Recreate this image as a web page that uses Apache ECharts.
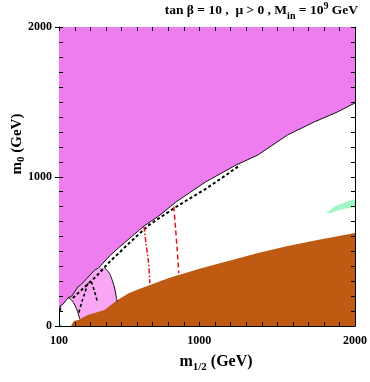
<!DOCTYPE html>
<html>
<head>
<meta charset="utf-8">
<script src="https://cdn.jsdelivr.net/npm/echarts@6/dist/echarts.min.js"></script>
<style>
html,body{margin:0;padding:0;background:#fff;}
#chart{width:370px;height:382px;}
</style>
</head>
<body>
<div id="chart"></div>
<script>
// ---- data (m_1/2 [GeV], m_0 [GeV]) ----
const xTickLabels = [100, 1000, 2000];
const yTickLabels = [0, 1000, 2000];

// upper boundary (charged stau LSP region above)
const staulspBoundary = [[111,96],[111,137],[125,145],[157,187],[183,201],[221,261],[246,281],[329,375],[354,388],[424,468],[488,528],[646,669],[741,736],[850,829],[1040,963],[1237,1077],[1377,1144],[1567,1278],[1739,1365],[1886,1431],[2000,1492]];
// brown excluded region (top edge)
const brownEdge = [[176,0],[195,33],[223,40],[284,74],[392,107],[475,174],[551,221],[615,247],[805,321],[996,381],[1187,435],[1377,488],[1568,535],[1759,575],[2000,622]];
// light pink region
const pinkRegion = [[159,189],[181,174],[202,140],[219,96],[233,40],[475,40],[475,161],[469,185],[460,241],[445,296],[424,352],[392,390],[354,388],[329,375],[246,281],[221,261],[183,201]];
const pinkRightEdge = [[392,390],[424,352],[445,296],[460,241],[469,185],[475,161]];
const pinkLeftEdge = [[159,189],[181,174],[202,140],[219,96],[233,48]];
// green relic-density strip
const greenStrip = [[1816,756],[1873,803],[1930,825],[1962,838],[2000,847],[2000,794],[1949,787],[1898,776],[1841,754]];
const cyanSpot = [[100,0],[122,0],[112,14],[104,12]];
// dashed / dash-dot contours
const blackDashedMain = [[189,187],[265,261],[335,328],[424,428],[551,555],[678,676],[850,796],[1040,916],[1155,997],[1263,1077]];
const blackDashedB = [[286,286],[265,219],[244,152],[227,87]];
const blackDashedC = [[308,296],[329,229],[346,163]];
const redDashDot = [[646,664],[657,564],[674,430],[683,286]];
const redDashed = [[837,798],[848,654],[858,520],[869,353]];

// ---- build ----
const magentaRegion = [[100,2000],[2000,2000]].concat(staulspBoundary.slice().reverse()).concat([[100,137]]);

function poly(points, color, z) {
  return {
    type: 'custom', coordinateSystem: 'cartesian2d', xAxisIndex: 0, yAxisIndex: 0,
    data: [[points[0][0], points[0][1]]], z: z, silent: true, clip: true,
    renderItem: function (params, api) {
      return { type: 'polygon', shape: { points: points.map(function (p) { return api.coord(p); }) },
               style: { fill: color } };
    }
  };
}
function line(points, color, width, type, z, smooth) {
  return {
    type: 'line', xAxisIndex: 0, yAxisIndex: 0, data: points, showSymbol: false, symbol: 'none',
    smooth: smooth || 0, silent: true, z: z, clip: true,
    lineStyle: { color: color, width: width, type: type }
  };
}
// tick marks drawn on top of the filled regions, positioned by the axis scales
function tickLayer(axisDim, values, atValue, dir, len) {
  const pts = values.map(function (v) { return axisDim === 'x' ? [v, atValue] : [atValue, v]; });
  return {
    type: 'custom', coordinateSystem: 'cartesian2d', xAxisIndex: 0, yAxisIndex: 0,
    data: pts, z: 50, silent: true, clip: false,
    renderItem: function (params, api) {
      const p = api.coord([api.value(0), api.value(1)]);
      const x = Math.round(p[0]), y = Math.round(p[1]);
      const sh = axisDim === 'x'
        ? { x: x, y: dir < 0 ? y - len : y, width: 1, height: len }
        : { x: dir < 0 ? x - len : x, y: y, width: len, height: 1 };
      return { type: 'rect', shape: sh, style: { fill: '#000' } };
    }
  };
}

const serif = '"Liberation Serif", "DejaVu Serif", serif';
const chart = echarts.init(document.getElementById('chart'), null, { renderer: 'canvas' });

const axisCommon = {
  type: 'value', splitLine: { show: false },
  axisLine: { show: true, onZero: false, lineStyle: { color: '#000', width: 1 } },
  axisTick: { show: false }
};
const plain = function (v) { return String(v); };
const xTicks = [100,200,300,400,500,600,700,800,900,1000,1100,1200,1300,1400,1500,1600,1700,1800,1900,2000];
const yTicks = [0,100,200,300,400,500,600,700,800,900,1000,1100,1200,1300,1400,1500,1600,1700,1800,1900,2000];

chart.setOption({
  animation: false,
  backgroundColor: '#fff',
  grid: { left: 59, right: 12, top: 27, bottom: 56, containLabel: false },
  xAxis: [
    Object.assign({}, axisCommon, { min: 100, max: 2000, interval: 100, position: 'bottom',
      axisLabel: { show: true, customValues: xTickLabels, margin: 9, formatter: plain,
        fontFamily: serif, fontWeight: 'bold', fontSize: 12, color: '#000' } }),
    Object.assign({}, axisCommon, { min: 100, max: 2000, interval: 100, position: 'top',
      axisLabel: { show: false } })
  ],
  yAxis: [
    Object.assign({}, axisCommon, { min: 0, max: 2000, interval: 100, position: 'left',
      axisLabel: { show: true, customValues: yTickLabels, margin: 7, formatter: plain,
        fontFamily: serif, fontWeight: 'bold', fontSize: 12, color: '#000' } }),
    Object.assign({}, axisCommon, { min: 0, max: 2000, interval: 100, position: 'right',
      axisLabel: { show: false } })
  ],
  series: [
    poly(magentaRegion, '#ee7df0', 1),
    poly(pinkRegion, '#f9a6f4', 2),
    poly(greenStrip, '#a2f5c6', 2),
    poly(cyanSpot, '#8ef0f0', 2),
    poly([[100,0]].concat(brownEdge).concat([[2000,0]]), '#be5a12', 3),
    line(staulspBoundary, '#111', 1, 'solid', 5, 0),
    line(pinkRightEdge, '#111', 1, 'solid', 5, 0.3),
    line(pinkLeftEdge, '#111', 1, 'solid', 5, 0.3),
    line(blackDashedMain, '#000', 2, [3, 2.5], 6, 0),
    line(blackDashedB, '#000', 1.6, [3, 2.5], 6, 0.3),
    line(blackDashedC, '#000', 1.6, [3, 2.5], 6, 0.3),
    line(redDashDot, '#e8101c', 1.5, [5, 2, 1.5, 2], 6, 0.3),
    line(redDashed, '#e8101c', 1.5, [5, 3], 6, 0.3),
    tickLayer('x', xTicks, 0, -1, 4),
    tickLayer('x', xTicks, 2000, 1, 4),
    tickLayer('y', yTicks, 100, 1, 4),
    tickLayer('y', yTicks, 2000, -1, 4),
    tickLayer('y', yTickLabels, 100, -1, 4)
  ],
  graphic: [
    { type: 'text', right: 12, top: 1, z: 30,
      style: { text: '{m|tan β = 10 ,  μ > 0 , M}{sub|in}{m| = 10}{sup|9}{m| GeV}',
        rich: {
          m: { fontFamily: serif, fontWeight: 'bold', fontSize: 13.5, lineHeight: 20, fill: '#000' },
          sub: { fontFamily: serif, fontWeight: 'bold', fontSize: 10, lineHeight: 10, verticalAlign: 'bottom', fill: '#000' },
          sup: { fontFamily: serif, fontWeight: 'bold', fontSize: 10, lineHeight: 10, verticalAlign: 'top', fill: '#000' }
        } } },
    { type: 'text', x: 216, y: 362, z: 30,
      style: { text: '{m|m}{sub|1/2}{m| (GeV)}', align: 'center', verticalAlign: 'middle',
        rich: {
          m: { fontFamily: serif, fontWeight: 'bold', fontSize: 16, lineHeight: 22, fill: '#000' },
          sub: { fontFamily: serif, fontWeight: 'bold', fontSize: 11, lineHeight: 11, verticalAlign: 'bottom', fill: '#000' }
        } } },
    { type: 'text', x: 17, y: 144, rotation: Math.PI / 2, z: 30,
      style: { text: '{m|m}{sub|0}{m| (GeV)}', align: 'center', verticalAlign: 'middle',
        rich: {
          m: { fontFamily: serif, fontWeight: 'bold', fontSize: 15, lineHeight: 20, fill: '#000' },
          sub: { fontFamily: serif, fontWeight: 'bold', fontSize: 11, lineHeight: 11, verticalAlign: 'bottom', fill: '#000' }
        } } }
  ]
});
</script>
</body>
</html>
